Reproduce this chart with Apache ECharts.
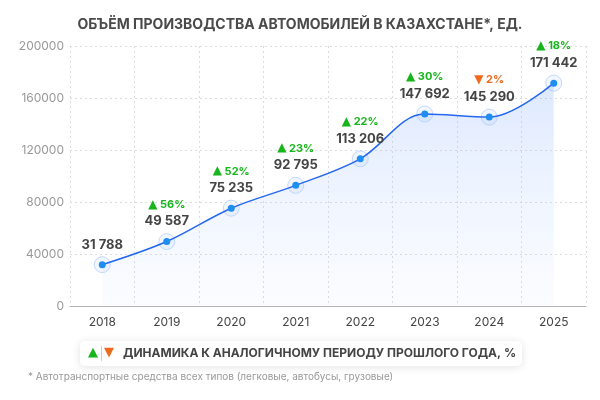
<!DOCTYPE html>
<html lang="ru">
<head>
    <meta charset="UTF-8">
    <title>Объём производства автомобилей</title>
    <script src="https://cdn.jsdelivr.net/npm/echarts@6/dist/echarts.min.js"></script>
    <style>
        * { margin: 0; padding: 0 }
        html, body { width: 100%; height: 100%; background: #fff; }
        #chart { width: 600px; height: 400px; }
    </style>
</head>
<body>
<div id="chart"></div>
<script>
    // данные
    var years = ['2018', '2019', '2020', '2021', '2022', '2023', '2024', '2025'];
    var volumes = [31788, 49587, 75235, 92795, 113206, 147692, 145290, 171442];
    var changes = [null, 56, 52, 23, 22, 30, -2, 18];
    var yTicks = [0, 40000, 80000, 120000, 160000, 200000];

    function fmt(v) {
        return String(v).replace(/\B(?=(\d{3})+(?!\d))/g, ' ');
    }

    var font = 'Inter, "Noto Sans", sans-serif';
    var myChart = echarts.init(document.getElementById('chart'));

    var option = {
        backgroundColor: '#fff',
        textStyle: {fontFamily: font},
        title: {
            text: 'ОБЪЁМ ПРОИЗВОДСТВА АВТОМОБИЛЕЙ В КАЗАХСТАНЕ*, ЕД.',
            left: 'center',
            top: 13,
            textStyle: {fontFamily: font, fontSize: 14, fontWeight: 'bold', color: '#4a4a4a'}
        },
        grid: {left: 70, right: 14, top: 46, bottom: 94},
        xAxis: {
            type: 'category',
            data: years,
            boundaryGap: true,
            axisLine: {lineStyle: {color: '#b5b5b5'}},
            axisTick: {show: false},
            axisLabel: {color: '#444', fontSize: 12, margin: 10},
            splitLine: {show: true, lineStyle: {color: '#dcdcdc', type: [2, 3]}}
        },
        yAxis: {
            type: 'value',
            min: yTicks[0],
            max: yTicks[yTicks.length - 1],
            interval: 40000,
            axisLine: {show: false},
            axisTick: {show: false},
            axisLabel: {color: '#999', fontSize: 12, margin: 6, formatter: function (v) { return String(v); }},
            splitLine: {lineStyle: {color: '#dcdcdc', type: [2, 3]}}
        },
        series: [
            {
                type: 'line',
                data: volumes,
                smooth: 0.35,
                symbol: 'circle',
                symbolSize: 7,
                z: 3,
                lineStyle: {color: '#2467f0', width: 1.5},
                itemStyle: {color: '#1f8ef0'},
                areaStyle: {
                    color: new echarts.graphic.LinearGradient(0, 0, 0, 1, [
                        {offset: 0, color: 'rgba(150,185,255,0.45)'},
                        {offset: 1, color: 'rgba(200,220,255,0.12)'}
                    ])
                },
                label: {
                    show: true,
                    position: 'top',
                    distance: 8,
                    formatter: function (p) {
                        var c = changes[p.dataIndex];
                        var v = '{v|' + fmt(p.value) + '}';
                        if (c === null) return v;
                        if (c >= 0) return '{up|▲}{pu| ' + c + '%}\n' + v;
                        return '{dn|▼}{pd| ' + Math.abs(c) + '%}\n' + v;
                    },
                    rich: {
                        v: {fontFamily: font, fontSize: 13, fontWeight: 'bold', color: '#444', lineHeight: 17},
                        up: {fontFamily: 'DejaVu Sans', fontSize: 12, color: '#16b51b', lineHeight: 17},
                        dn: {fontFamily: 'DejaVu Sans', fontSize: 12, color: '#f06a1e', lineHeight: 17},
                        pu: {fontFamily: font, fontSize: 11, fontWeight: 'bold', color: '#16b51b', lineHeight: 17},
                        pd: {fontFamily: font, fontSize: 11, fontWeight: 'bold', color: '#f06a1e', lineHeight: 17}
                    }
                }
            },
            {
                // ореол вокруг точек
                type: 'scatter',
                data: volumes,
                symbolSize: 16,
                z: 2,
                silent: true,
                itemStyle: {color: 'rgba(225,236,255,0.6)', borderColor: 'rgba(130,175,250,0.55)', borderWidth: 1}
            }
        ],
        graphic: [
            {
                type: 'rect',
                left: 80,
                top: 341,
                shape: {width: 442, height: 25, r: 5},
                style: {fill: '#fff', shadowBlur: 8, shadowColor: 'rgba(0,0,0,0.12)', shadowOffsetY: 1}
            },
            {
                type: 'text',
                left: 88,
                top: 346,
                style: {text: '▲', fontFamily: 'DejaVu Sans', fontSize: 13, fill: '#16b51b'}
            },
            {
                type: 'rect',
                left: 101,
                top: 346,
                shape: {width: 1, height: 15},
                style: {fill: '#d0d0d0'}
            },
            {
                type: 'text',
                left: 104,
                top: 346,
                style: {text: '▼', fontFamily: 'DejaVu Sans', fontSize: 13, fill: '#f06a1e'}
            },
            {
                type: 'text',
                left: 123,
                top: 347,
                style: {
                    text: 'ДИНАМИКА К АНАЛОГИЧНОМУ ПЕРИОДУ ПРОШЛОГО ГОДА, %',
                    fontFamily: font, fontSize: 12, fontWeight: 'bold', fill: '#444'
                }
            },
            {
                type: 'text',
                left: 28,
                top: 372,
                style: {
                    text: '* Автотранспортные средства всех типов (легковые, автобусы, грузовые)',
                    fontFamily: font,
                    fontSize: 10,
                    fill: '#999'
                }
            }
        ]
    };

    myChart.setOption(option);
</script>
</body>
</html>
